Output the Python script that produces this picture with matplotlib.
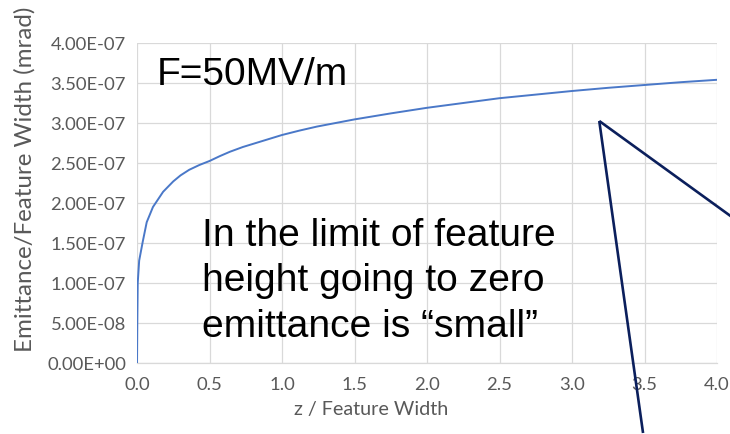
import matplotlib
matplotlib.use("Agg")
import matplotlib.pyplot as plt

# Emittance per feature width vs. normalized distance from the surface
z_over_w = [0.0, 0.002, 0.005, 0.015, 0.04, 0.067, 0.11, 0.18, 0.25, 0.30,
            0.36, 0.43, 0.50, 0.57, 0.64, 0.73, 0.82, 0.91, 1.00, 1.12,
            1.24, 1.37, 1.50, 1.75, 2.00, 2.25, 2.50, 2.75, 3.00, 3.25,
            3.50, 3.75, 4.00]
emit_over_w = [0.0, 0.50, 1.00, 1.28, 1.52, 1.76, 1.95, 2.14, 2.27, 2.345,
               2.415, 2.475, 2.525, 2.585, 2.64, 2.70, 2.75, 2.80, 2.85, 2.905,
               2.955, 3.00, 3.045, 3.12, 3.19, 3.25, 3.31, 3.355, 3.40, 3.44,
               3.475, 3.51, 3.54]
emit_over_w = [v * 1e-7 for v in emit_over_w]

x_ticks = [0.0, 0.5, 1.0, 1.5, 2.0, 2.5, 3.0, 3.5, 4.0]
y_ticks = [i * 0.5e-7 for i in range(9)]
y_tick_labels = ["0.00E+00", "5.00E-08", "1.00E-07", "1.50E-07", "2.00E-07",
                 "2.50E-07", "3.00E-07", "3.50E-07", "4.00E-07"]

# Callout pointer (vertex and two tails) in data units
callout_vertex = (3.188, 3.025e-7)
callout_tail_a = (4.16, 1.75e-7)
callout_tail_b = (3.49, -0.875e-7)

body_lines = ["In the limit of feature", "height going to zero",
              "emittance is \u201csmall\u201d"]

W, H = 730, 434
fig = plt.figure(figsize=(W / 100, H / 100), dpi=100)
ax = fig.add_axes([137 / W, 1 - 363 / H, (717 - 137) / W, (363 - 43) / H])

grid_c = "#d9d9d9"
tick_c = "#595959"
tick_font = "Lato"

ax.plot(z_over_w, emit_over_w, color="#4a78c8", lw=1.4, zorder=3)
ax.set_xlim(0, 4.0)
ax.set_ylim(0, 4e-7)
ax.set_xticks(x_ticks)
ax.set_xticklabels([f"{t:.1f}" for t in x_ticks], family=tick_font,
                   fontsize=13.3, color=tick_c)
ax.set_yticks(y_ticks)
ax.set_yticklabels(y_tick_labels, family=tick_font, fontsize=13.3, color=tick_c)
ax.tick_params(axis="y", length=0, pad=8)
ax.tick_params(axis="x", length=0, pad=10)
ax.grid(True, color=grid_c, lw=0.9)
for side in ["left", "right", "top"]:
    ax.spines[side].set_visible(False)
ax.spines["bottom"].set_color(grid_c)
ax.spines["bottom"].set_linewidth(0.9)

fig.text(371 / W, 1 - 410 / H, "z / Feature Width", family=tick_font,
         fontsize=14.2, color=tick_c, ha="center", va="center")
fig.text(25 / W, 1 - 179 / H, "Emittance/Feature Width (mrad)", family=tick_font,
         fontsize=17.4, color=tick_c, ha="center", va="center", rotation=90)

body_font = "Liberation Sans"
fig.text(157 / W, 1 - 75 / H, "F=50MV/m", family=body_font, fontsize=28,
         color="black", ha="left", va="center")
for i, line in enumerate(body_lines):
    fig.text(202 / W, 1 - (245.7 + 45.5 * i) / H, line, family=body_font,
             fontsize=28.1, color="black", ha="left", va="baseline")

navy = "#0b1f5c"
for tail in (callout_tail_a, callout_tail_b):
    ax.plot([callout_vertex[0], tail[0]], [callout_vertex[1], tail[1]],
            color=navy, lw=1.9, clip_on=False, zorder=5,
            solid_capstyle="butt")

fig.savefig("out.png", dpi=100)
